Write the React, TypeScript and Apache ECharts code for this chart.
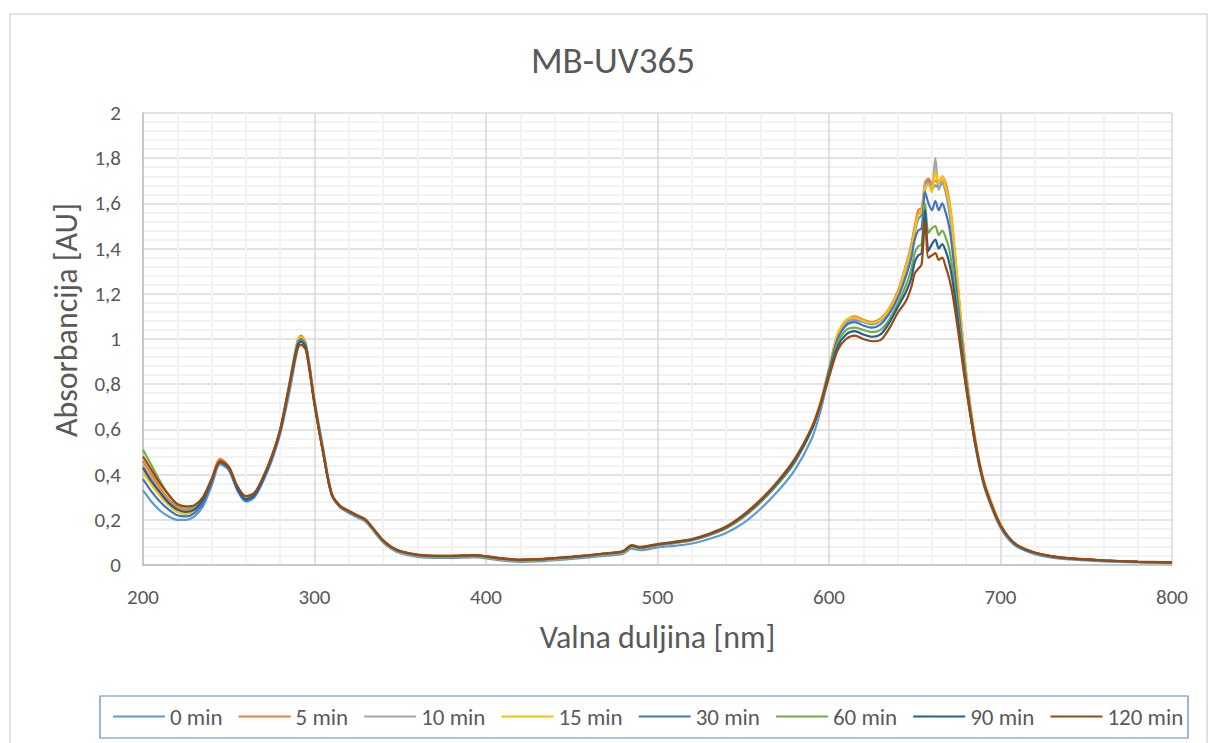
import React, { useEffect, useRef } from "react";
import * as echarts from "echarts";

const WAVELENGTHS = [
  200, 205, 210, 215, 220, 225, 230, 235, 240,
  245, 250, 255, 260, 265, 270, 275, 280, 285, 290, 292, 295,
  300, 305, 310, 315, 320, 325, 330, 335, 340, 345, 350,
  360, 370, 380, 390, 395, 400,
  410, 420, 430, 440, 450, 460, 470, 480, 485, 490, 500,
  510, 520, 530, 540, 550, 560, 570, 580, 590, 595,
  600, 605, 610, 615, 620, 625, 630, 635, 640, 645,
  648, 650, 652, 654, 656, 658, 660, 662, 664, 666, 668, 670, 672, 675, 680,
  685, 690, 695, 700, 705, 710, 720, 730, 740, 760, 780, 800,
];

const SERIES_NAMES = ["0 min", "5 min", "10 min", "15 min", "30 min", "60 min", "90 min", "120 min"];

const ABS_0 = [
  0.33, 0.28, 0.24, 0.215, 0.2, 0.2, 0.215, 0.26, 0.35,
  0.445, 0.42, 0.33, 0.28, 0.3, 0.37, 0.46, 0.58, 0.75, 0.95, 0.99, 0.965,
  0.73, 0.52, 0.32, 0.255, 0.23, 0.21, 0.19, 0.145, 0.1, 0.07, 0.052,
  0.036, 0.031, 0.031, 0.033, 0.034, 0.029,
  0.019, 0.014, 0.016, 0.021, 0.027, 0.034, 0.041, 0.05, 0.072, 0.066, 0.078,
  0.085, 0.095, 0.115, 0.142, 0.185, 0.248, 0.325, 0.42, 0.56, 0.68,
  0.84, 1.0, 1.07, 1.085, 1.075, 1.065, 1.08, 1.12, 1.19, 1.31,
  1.39, 1.47, 1.53, 1.55, 1.66, 1.7, 1.66, 1.68, 1.67, 1.69, 1.65, 1.57, 1.44, 1.2, 0.82,
  0.54, 0.36, 0.25, 0.165, 0.11, 0.078, 0.048, 0.033, 0.025, 0.016, 0.011, 0.008,
];
const ABS_5 = [
  0.46, 0.4, 0.34, 0.29, 0.255, 0.245, 0.255, 0.3, 0.38,
  0.47, 0.435, 0.345, 0.295, 0.315, 0.385, 0.48, 0.6, 0.79, 0.99, 1.015, 0.98,
  0.725, 0.505, 0.312, 0.257, 0.236, 0.216, 0.196, 0.151, 0.106, 0.076, 0.058,
  0.042, 0.037, 0.037, 0.039, 0.04, 0.035,
  0.025, 0.02, 0.022, 0.027, 0.033, 0.04, 0.048, 0.058, 0.083, 0.075, 0.088,
  0.098, 0.11, 0.132, 0.163, 0.212, 0.278, 0.358, 0.455, 0.61, 0.72,
  0.87, 1.02, 1.08, 1.1, 1.085, 1.075, 1.09, 1.135, 1.21, 1.33,
  1.42, 1.5, 1.57, 1.58, 1.69, 1.71, 1.69, 1.7, 1.69, 1.72, 1.69, 1.62, 1.5, 1.25, 0.85,
  0.57, 0.38, 0.27, 0.18, 0.12, 0.085, 0.054, 0.038, 0.029, 0.02, 0.014, 0.011,
];
const ABS_10 = [
  0.44, 0.38, 0.325, 0.28, 0.245, 0.235, 0.25, 0.295, 0.375,
  0.46, 0.43, 0.34, 0.29, 0.31, 0.38, 0.475, 0.595, 0.785, 0.985, 1.01, 0.975,
  0.72, 0.5, 0.31, 0.256, 0.235, 0.215, 0.195, 0.15, 0.105, 0.075, 0.057,
  0.041, 0.036, 0.036, 0.038, 0.039, 0.034,
  0.024, 0.019, 0.021, 0.026, 0.032, 0.039, 0.047, 0.057, 0.082, 0.074, 0.087,
  0.097, 0.109, 0.131, 0.162, 0.211, 0.277, 0.357, 0.455, 0.6, 0.71,
  0.86, 1.01, 1.075, 1.09, 1.08, 1.07, 1.085, 1.13, 1.2, 1.33,
  1.41, 1.49, 1.55, 1.57, 1.68, 1.69, 1.68, 1.8, 1.66, 1.7, 1.66, 1.59, 1.47, 1.23, 0.84,
  0.56, 0.38, 0.27, 0.175, 0.12, 0.085, 0.053, 0.037, 0.028, 0.019, 0.014, 0.011,
];
const ABS_15 = [
  0.41, 0.355, 0.305, 0.265, 0.235, 0.225, 0.24, 0.285, 0.37,
  0.46, 0.43, 0.34, 0.29, 0.31, 0.38, 0.475, 0.595, 0.785, 0.985, 1.01, 0.975,
  0.72, 0.5, 0.31, 0.255, 0.235, 0.215, 0.195, 0.15, 0.105, 0.075, 0.058,
  0.042, 0.037, 0.037, 0.039, 0.04, 0.035,
  0.025, 0.02, 0.022, 0.027, 0.033, 0.04, 0.048, 0.058, 0.083, 0.075, 0.088,
  0.098, 0.11, 0.132, 0.163, 0.212, 0.278, 0.358, 0.455, 0.61, 0.72,
  0.87, 1.02, 1.085, 1.095, 1.08, 1.07, 1.085, 1.13, 1.2, 1.32,
  1.4, 1.48, 1.55, 1.56, 1.67, 1.68, 1.65, 1.74, 1.69, 1.72, 1.67, 1.61, 1.49, 1.25, 0.85,
  0.57, 0.38, 0.27, 0.18, 0.12, 0.085, 0.054, 0.038, 0.029, 0.02, 0.014, 0.011,
];
const ABS_30 = [
  0.38, 0.325, 0.28, 0.245, 0.22, 0.215, 0.23, 0.275, 0.365,
  0.455, 0.425, 0.335, 0.285, 0.305, 0.375, 0.47, 0.59, 0.78, 0.975, 1.0, 0.97,
  0.72, 0.5, 0.312, 0.256, 0.236, 0.216, 0.196, 0.151, 0.106, 0.076, 0.059,
  0.043, 0.038, 0.038, 0.04, 0.041, 0.036,
  0.026, 0.021, 0.023, 0.028, 0.034, 0.041, 0.049, 0.059, 0.084, 0.076, 0.089,
  0.099, 0.111, 0.133, 0.164, 0.213, 0.279, 0.358, 0.455, 0.6, 0.71,
  0.86, 1.0, 1.06, 1.075, 1.06, 1.05, 1.065, 1.11, 1.18, 1.28,
  1.36, 1.44, 1.48, 1.49, 1.65, 1.6, 1.57, 1.61, 1.57, 1.6, 1.56, 1.5, 1.39, 1.17, 0.82,
  0.56, 0.37, 0.26, 0.175, 0.12, 0.085, 0.053, 0.037, 0.028, 0.019, 0.014, 0.011,
];
const ABS_60 = [
  0.51, 0.44, 0.37, 0.31, 0.265, 0.255, 0.26, 0.3, 0.38,
  0.46, 0.43, 0.345, 0.295, 0.315, 0.385, 0.48, 0.6, 0.785, 0.975, 0.995, 0.965,
  0.715, 0.5, 0.313, 0.258, 0.237, 0.217, 0.197, 0.152, 0.107, 0.077, 0.06,
  0.044, 0.039, 0.039, 0.041, 0.042, 0.037,
  0.027, 0.022, 0.024, 0.029, 0.035, 0.042, 0.05, 0.06, 0.085, 0.077, 0.09,
  0.1, 0.112, 0.134, 0.165, 0.215, 0.281, 0.36, 0.457, 0.6, 0.71,
  0.85, 0.98, 1.04, 1.05, 1.04, 1.03, 1.04, 1.085, 1.155, 1.24,
  1.31, 1.38, 1.41, 1.42, 1.6, 1.47, 1.49, 1.5, 1.46, 1.48, 1.45, 1.4, 1.31, 1.12, 0.8,
  0.55, 0.37, 0.26, 0.175, 0.12, 0.085, 0.053, 0.037, 0.028, 0.019, 0.014, 0.011,
];
const ABS_90 = [
  0.43, 0.37, 0.32, 0.275, 0.245, 0.235, 0.245, 0.29, 0.375,
  0.455, 0.43, 0.34, 0.29, 0.31, 0.38, 0.475, 0.595, 0.78, 0.97, 0.99, 0.96,
  0.712, 0.5, 0.314, 0.259, 0.238, 0.218, 0.198, 0.153, 0.108, 0.078, 0.061,
  0.045, 0.04, 0.04, 0.042, 0.043, 0.038,
  0.028, 0.023, 0.025, 0.03, 0.036, 0.043, 0.051, 0.061, 0.086, 0.078, 0.091,
  0.101, 0.113, 0.136, 0.167, 0.218, 0.284, 0.365, 0.462, 0.6, 0.71,
  0.845, 0.965, 1.02, 1.035, 1.02, 1.01, 1.02, 1.07, 1.14, 1.21,
  1.27, 1.34, 1.37, 1.38, 1.57, 1.39, 1.42, 1.44, 1.4, 1.42, 1.39, 1.34, 1.26, 1.09, 0.79,
  0.55, 0.37, 0.26, 0.175, 0.12, 0.085, 0.054, 0.038, 0.029, 0.02, 0.014, 0.011,
];
const ABS_120 = [
  0.48, 0.42, 0.36, 0.31, 0.27, 0.26, 0.265, 0.3, 0.38,
  0.46, 0.435, 0.35, 0.305, 0.32, 0.39, 0.48, 0.6, 0.78, 0.955, 0.975, 0.95,
  0.71, 0.5, 0.315, 0.262, 0.24, 0.22, 0.2, 0.155, 0.11, 0.08, 0.062,
  0.046, 0.041, 0.041, 0.043, 0.044, 0.039,
  0.029, 0.024, 0.026, 0.031, 0.037, 0.044, 0.052, 0.062, 0.088, 0.08, 0.093,
  0.103, 0.115, 0.138, 0.17, 0.222, 0.288, 0.37, 0.47, 0.61, 0.71,
  0.83, 0.95, 1.0, 1.015, 1.0, 0.99, 0.995, 1.045, 1.115, 1.17,
  1.23, 1.29, 1.31, 1.33, 1.52, 1.36, 1.37, 1.38, 1.35, 1.36, 1.32, 1.27, 1.2, 1.05, 0.78,
  0.55, 0.37, 0.26, 0.175, 0.12, 0.087, 0.055, 0.039, 0.03, 0.021, 0.015, 0.012,
];

const SERIES_VALUES = [ABS_0, ABS_5, ABS_10, ABS_15, ABS_30, ABS_60, ABS_90, ABS_120];
const SERIES_COLORS = ["#5B9BD5", "#ED7D31", "#A5A5A5", "#FFC000", "#4472C4", "#70AD47", "#255E91", "#9E480E"];

const TITLE = "MB-UV365";
const X_TITLE = "Valna duljina [nm]";
const Y_TITLE = "Absorbancija [AU]";

const FONT = "Carlito, Calibri, Lato, sans-serif";
const TEXT_COLOR = "#595959";

export default function App() {
  const ref = useRef<HTMLDivElement>(null);

  useEffect(() => {
    if (!ref.current) return;
    const chart = echarts.init(ref.current, null, { renderer: "svg" });
    const series = SERIES_NAMES.map((name, s) => ({
      name,
      type: "line",
      data: WAVELENGTHS.map((w, i) => [w, SERIES_VALUES[s][i]]),
      symbol: "none",
      showSymbol: false,
      smooth: 0.3,
      lineStyle: { width: 2.2, color: SERIES_COLORS[s] },
      itemStyle: { color: SERIES_COLORS[s] },
    }));

    chart.setOption({
      animation: false,
      backgroundColor: "#ffffff",
      textStyle: { fontFamily: FONT },
      grid: { left: 143, right: 37, top: 113, bottom: 178, containLabel: false },
      xAxis: {
        type: "value",
        min: 200,
        max: 800,
        interval: 100,
        name: X_TITLE,
        nameLocation: "middle",
        nameGap: 56,
        nameTextStyle: { fontFamily: FONT, fontSize: 32, color: TEXT_COLOR },
        axisLine: { show: true, lineStyle: { color: "#bfbfbf", width: 1.5 } },
        axisTick: { show: false },
        axisLabel: { margin: 21, fontSize: 21, color: TEXT_COLOR, fontFamily: FONT },
        splitLine: { show: true, lineStyle: { color: "#d9d9d9", width: 1.5 } },
        minorTick: { show: false, splitNumber: 5 },
        minorSplitLine: { show: true, lineStyle: { color: "#f2f2f2", width: 2 } },
      },
      yAxis: {
        type: "value",
        min: 0,
        max: 2,
        interval: 0.2,
        axisLine: { show: true, lineStyle: { color: "#bfbfbf", width: 1.5 } },
        axisTick: { show: false },
        axisLabel: {
          margin: 22,
          fontSize: 21,
          color: TEXT_COLOR,
          fontFamily: FONT,
          formatter: (v: number) => String(Math.round(v * 10) / 10).replace(".", ","),
        },
        splitLine: { show: true, lineStyle: { color: "#d9d9d9", width: 1.5 } },
        minorTick: { show: false, splitNumber: 5 },
        minorSplitLine: { show: true, lineStyle: { color: "#f2f2f2", width: 2 } },
      },
      legend: {
        left: 108,
        top: 700,
        icon: "rect",
        itemWidth: 52,
        itemHeight: 2,
        itemGap: 16,
        textStyle: { fontFamily: FONT, fontSize: 23, color: TEXT_COLOR },
        data: SERIES_NAMES,
      },
      graphic: [
        {
          type: "rect",
          shape: { x: 10, y: 14, width: 1197, height: 760 },
          style: { fill: "none", stroke: "#d9d9d9", lineWidth: 1.5 },
          silent: true,
          z: -10,
        },
        {
          type: "rect",
          shape: { x: 100, y: 696, width: 1088, height: 42 },
          style: { fill: "none", stroke: "#5b87c9", lineWidth: 1.2 },
          silent: true,
        },
        {
          type: "text",
          x: 613,
          y: 60,
          style: {
            text: TITLE,
            fontFamily: FONT,
            fontSize: 37,
            fill: TEXT_COLOR,
            align: "center",
            verticalAlign: "middle",
          },
        },
        {
          type: "text",
          x: 66,
          y: 320,
          rotation: Math.PI / 2,
          style: {
            text: Y_TITLE,
            fontFamily: FONT,
            fontSize: 32,
            fill: TEXT_COLOR,
            align: "center",
            verticalAlign: "middle",
          },
        },
      ],
      series,
    });

    return () => chart.dispose();
  }, []);

  return (
    <div
      ref={ref}
      style={{ position: "fixed", left: 0, top: 0, width: 1209, height: 743, background: "#fff" }}
    />
  );
}
